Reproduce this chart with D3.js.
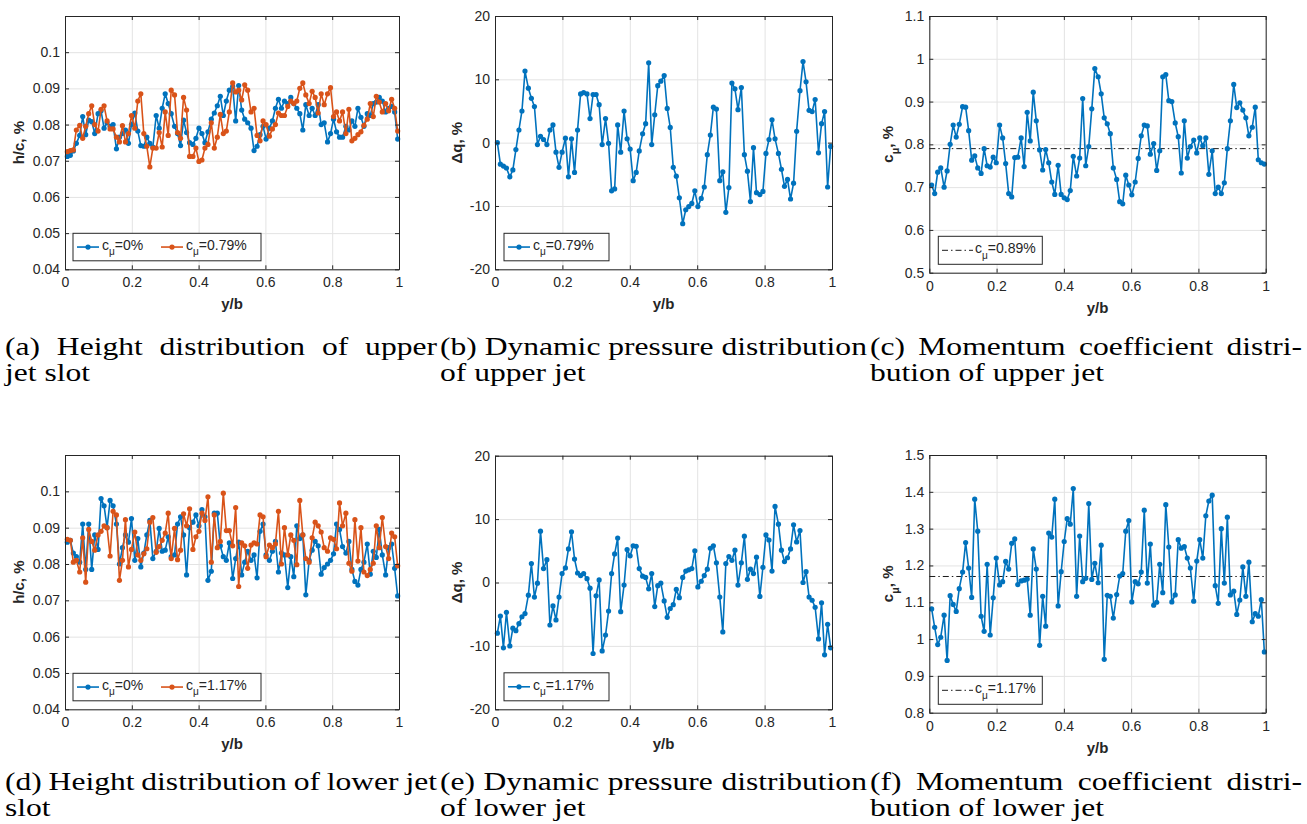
<!DOCTYPE html>
<html>
<head>
<meta charset="utf-8">
<script src="https://cdn.jsdelivr.net/npm/d3@7"></script>
<style>
  body { margin: 0; background: #fff; }
  svg text { font-family: "Liberation Sans", Arial, Helvetica, sans-serif; fill: #262626; }
  svg text.cap { font-family: "Liberation Serif", "Times New Roman", serif; fill: #000; }
</style>
</head>
<body>
<svg id="fig" width="1307" height="824"></svg>
<script>
// spanwise stations y/b
const yb = [0.007,0.016,0.025,0.034,0.044,0.053,0.062,0.071,0.080,0.089,
  0.099,0.108,0.117,0.126,0.135,0.144,0.154,0.163,0.172,0.181,
  0.190,0.199,0.209,0.218,0.227,0.236,0.245,0.254,0.263,0.273,
  0.282,0.291,0.300,0.309,0.318,0.328,0.337,0.346,0.355,0.364,
  0.373,0.383,0.392,0.401,0.410,0.419,0.428,0.438,0.447,0.456,
  0.465,0.474,0.483,0.492,0.502,0.511,0.520,0.529,0.538,0.547,
  0.557,0.566,0.575,0.584,0.593,0.602,0.612,0.621,0.630,0.639,
  0.648,0.657,0.667,0.676,0.685,0.694,0.703,0.712,0.721,0.731,
  0.740,0.749,0.758,0.767,0.776,0.786,0.795,0.804,0.813,0.822,
  0.831,0.841,0.850,0.859,0.868,0.877,0.886,0.895,0.905,0.914,
  0.923,0.932,0.941,0.950,0.960,0.969,0.978,0.987,0.996];

// (a) upper slot height h/c
const hUpperOff = [0.0712,0.0715,0.0727,0.0748,0.077,0.0822,0.0772,0.0812,0.0808,0.0775,
  0.083,0.0838,0.079,0.0805,0.0795,0.08,0.0733,0.0765,0.0775,0.0785,
  0.0748,0.08,0.0832,0.0782,0.0742,0.074,0.0765,0.0748,0.0738,0.0825,
  0.079,0.0845,0.0885,0.0858,0.083,0.0795,0.0775,0.0742,0.0812,0.0778,
  0.075,0.0745,0.0762,0.079,0.0775,0.075,0.078,0.0815,0.0832,0.0852,
  0.0878,0.0825,0.0865,0.0895,0.0905,0.081,0.0908,0.084,0.0815,0.0805,
  0.079,0.0728,0.074,0.0772,0.0795,0.076,0.079,0.081,0.0845,0.087,
  0.0845,0.0865,0.0858,0.0875,0.0858,0.0845,0.083,0.0785,0.0855,0.0825,
  0.0845,0.0825,0.0855,0.08,0.0805,0.0752,0.0775,0.0815,0.078,0.0765,
  0.0765,0.0795,0.0785,0.081,0.0795,0.0845,0.082,0.0795,0.083,0.0825,
  0.0858,0.0862,0.0875,0.0865,0.0835,0.0845,0.085,0.0835,0.076];
const hUpperOn = [0.0725,0.0728,0.073,0.0785,0.0798,0.0762,0.0795,0.083,0.0852,0.08,
  0.0782,0.0842,0.0852,0.081,0.0788,0.0788,0.0765,0.0752,0.0797,0.0752,
  0.0775,0.0825,0.079,0.0865,0.0885,0.0775,0.074,0.0683,0.0735,0.0735,
  0.0778,0.0738,0.0835,0.077,0.0895,0.0882,0.0778,0.0762,0.0875,0.084,
  0.0712,0.0712,0.0735,0.0698,0.0702,0.0735,0.0745,0.0805,0.0735,0.0765,
  0.0828,0.0775,0.0782,0.0835,0.0915,0.089,0.0895,0.0868,0.091,0.0895,
  0.0835,0.0845,0.077,0.0755,0.081,0.08,0.0768,0.0788,0.080,0.0832,
  0.0825,0.0825,0.085,0.0865,0.0858,0.0865,0.09,0.0915,0.0882,0.0858,
  0.0892,0.0875,0.0832,0.0885,0.0855,0.0885,0.0902,0.0822,0.0835,0.081,
  0.0835,0.0775,0.0842,0.0755,0.0762,0.0772,0.078,0.0798,0.0815,0.0858,
  0.0822,0.0878,0.0862,0.0835,0.0858,0.0838,0.087,0.0845,0.0782];

// (b) upper jet dynamic pressure deviation, %
const dqUpper = [0,-3.4,-3.7,-4,-5.4,-4.3,-1.1,2,5,11.3,
  8.6,7,5.7,-0.3,1,0.5,-0.3,2,2.8,-1.5,
  -3.9,-1.5,0.7,-5.4,0.6,-4.7,2,7.7,7.9,7.7,
  3.8,7.6,7.6,6,-0.3,3.8,-0.1,-7.6,-7.3,2.8,
  -1.5,5,0.6,-1,-6,-4.7,-1.3,1.4,3,12.6,
  -0.3,4.4,9,9.7,10.6,5.4,2.4,-3.9,-5.3,-8.7,
  -12.8,-10.6,-10.1,-9.6,-7.6,-10.1,-8.8,-7,-1.9,1.2,
  5.6,5.3,-6,-4.6,-11,-7.1,9.4,8.5,5.2,8.7,
  -1.9,-4.5,-9.3,-0.8,-7.9,-8.2,-7.7,-1.7,0.5,3.6,
  0.6,-1.7,-4.2,-6.9,-5.8,-8.9,-6.4,1.8,8.2,12.8,
  9.6,5.1,4.9,6.8,-1.6,3,4.9,-7,-0.6];

// (c) upper jet momentum coefficient, %
const cmuUpper = [0.705,0.685,0.735,0.745,0.70,0.738,0.80,0.845,0.817,0.847,
  0.888,0.887,0.832,0.763,0.773,0.745,0.732,0.79,0.75,0.747,
  0.77,0.757,0.845,0.815,0.755,0.685,0.677,0.769,0.77,0.815,
  0.748,0.875,0.808,0.922,0.855,0.787,0.74,0.788,0.757,0.712,
  0.683,0.751,0.683,0.675,0.671,0.692,0.772,0.726,0.768,0.907,
  0.75,0.795,0.883,0.977,0.958,0.918,0.862,0.848,0.825,0.745,
  0.718,0.666,0.661,0.728,0.705,0.682,0.712,0.767,0.82,0.845,
  0.843,0.777,0.802,0.739,0.785,0.958,0.963,0.902,0.9,0.85,
  0.818,0.733,0.855,0.768,0.795,0.81,0.78,0.815,0.797,0.815,
  0.73,0.785,0.685,0.7,0.685,0.71,0.79,0.855,0.94,0.886,
  0.897,0.88,0.862,0.82,0.84,0.887,0.764,0.757,0.754];
const cmuUpperMean = 0.79;

// (d) lower slot height h/c
const hLowerOff = [0.086,0.0865,0.083,0.082,0.0805,0.091,0.0785,0.091,0.0785,0.088,
  0.084,0.098,0.096,0.090,0.0975,0.096,0.091,0.080,0.0845,0.088,
  0.086,0.0925,0.081,0.087,0.0792,0.083,0.088,0.092,0.0815,0.0835,
  0.0898,0.0835,0.0838,0.0875,0.082,0.0825,0.091,0.093,0.088,0.077,
  0.090,0.0915,0.0935,0.0905,0.095,0.093,0.0755,0.078,0.094,0.094,
  0.085,0.082,0.081,0.0858,0.076,0.0815,0.086,0.077,0.0805,0.0835,
  0.081,0.0825,0.0762,0.089,0.091,0.0825,0.081,0.0835,0.0862,0.0778,
  0.083,0.0825,0.0735,0.082,0.0765,0.0905,0.087,0.088,0.0715,0.081,
  0.0838,0.0862,0.085,0.0772,0.079,0.080,0.081,0.0828,0.091,0.0895,
  0.0848,0.083,0.0862,0.0785,0.0752,0.0742,0.0785,0.0805,0.0855,0.0772,
  0.0835,0.0818,0.0895,0.0825,0.077,0.0845,0.0855,0.0788,0.0712];
const hLowerOn = [0.0868,0.0865,0.0805,0.081,0.0778,0.0872,0.075,0.0895,0.0862,0.0838,
  0.088,0.089,0.0905,0.09,0.0822,0.0945,0.0935,0.0755,0.081,0.0922,
  0.0792,0.084,0.0888,0.0825,0.081,0.0828,0.0842,0.0915,0.0928,0.0832,
  0.0848,0.0865,0.0885,0.094,0.0815,0.0898,0.0812,0.0838,0.0938,0.0905,
  0.0952,0.084,0.0875,0.089,0.094,0.092,0.0985,0.0805,0.0935,0.0845,
  0.0862,0.0995,0.0892,0.0892,0.085,0.0955,0.0738,0.0858,0.085,0.0788,
  0.0852,0.0858,0.0855,0.0935,0.093,0.082,0.0852,0.0845,0.0855,0.0945,
  0.080,0.090,0.0825,0.088,0.0865,0.0798,0.0975,0.088,0.0815,0.0805,
  0.0872,0.0915,0.0905,0.0888,0.0845,0.0835,0.0872,0.0868,0.0842,0.0968,
  0.0905,0.094,0.0802,0.078,0.0922,0.0808,0.090,0.0778,0.0768,0.0785,
  0.0802,0.0905,0.0845,0.0928,0.0848,0.0815,0.0885,0.0875,0.0795];

// (e) lower jet dynamic pressure deviation, %
const dqLower = [-8,-5.3,-10.3,-4.7,-10,-7.2,-7.6,-6.5,-5.4,-4.9,
  -2,3,-2.3,-0.1,8.1,2.2,3.6,-6.7,-3.7,-5.9,
  -2.3,1.4,2.3,5.3,8,3.7,1.5,1.1,1.4,0.6,
  -0.9,-11.2,-2.1,0.4,-10.8,-8.3,-4.5,1.4,4.5,7,
  -4.6,-0.4,5.2,4.2,5.8,5.7,2.2,1,0.8,-1,
  1.4,-3.8,-0.5,-0.1,-2.9,-5.5,-4.1,-3.5,-1.1,-2.4,
  0.8,1.8,2.0,2.2,5,-0.7,0.2,1.1,2.1,5.4,
  5.8,3.1,-2.3,-7.8,3,4.1,3.5,5.1,-0.4,3.1,
  7.3,0.5,2.1,1.4,4,-2.2,2.4,7.5,6.7,1.8,
  12,9.2,5.1,3.3,3.9,5.3,9.1,6.4,8.2,0,
  1.7,-2.3,-2.8,-3.9,-8.9,-3.2,-11.4,-6.6,-10.3];

// (f) lower jet momentum coefficient, %
const cmuLower = [1.082,1.032,0.985,1.005,1.065,0.942,1.118,1.094,1.075,1.137,
  1.182,1.262,1.193,1.113,1.38,1.293,1.062,1.021,1.203,1.011,
  1.112,1.22,1.147,1.156,1.211,1.19,1.26,1.272,1.148,1.158,
  1.16,1.163,1.065,1.245,1.19,0.983,1.116,1.035,1.288,1.277,
  1.38,1.09,1.183,1.265,1.327,1.312,1.409,1.116,1.28,1.156,
  1.165,1.368,1.162,1.206,1.153,1.255,0.945,1.119,1.116,1.057,
  1.121,1.171,1.178,1.293,1.322,1.101,1.156,1.15,1.182,1.35,
  1.152,1.258,1.092,1.1,1.203,1.126,1.365,1.25,1.101,1.12,
  1.27,1.247,1.251,1.22,1.193,1.103,1.212,1.27,1.22,1.335,
  1.375,1.391,1.145,1.097,1.3,1.152,1.331,1.12,1.13,1.067,
  1.106,1.196,1.116,1.209,1.047,1.069,1.062,1.107,0.965];
const cmuLowerMean = 1.17;

const xTicks = [0, 0.2, 0.4, 0.6, 0.8, 1];
const hTicks = [0.04, 0.05, 0.06, 0.07, 0.08, 0.09, 0.1];
const dqTicks = [-20, -10, 0, 10, 20];
const cmuUpperTicks = [0.5, 0.6, 0.7, 0.8, 0.9, 1, 1.1];
const cmuLowerTicks = [0.8, 0.9, 1, 1.1, 1.2, 1.3, 1.4, 1.5];

const captionsTop = [
  ["(a) Height distribution of upper", "jet slot"],
  ["(b) Dynamic pressure distribution", "of upper jet"],
  ["(c) Momentum coefficient distri-", "bution of upper jet"]
];
const captionsBottom = [
  ["(d) Height distribution of lower jet", "slot"],
  ["(e) Dynamic pressure distribution", "of lower jet"],
  ["(f) Momentum coefficient distri-", "bution of lower jet"]
];

const BLUE = "#0072BD", ORANGE = "#D95319", INK = "#262626";
const svg = d3.select("#fig");

const panels = [
  {box: [65, 16, 399, 269.3], yDom: [0.04, 0.11], yTicks: hTicks, ylab: ["h/c, %"], ylabX: 19,
   series: [{v: hUpperOff, c: BLUE}, {v: hUpperOn, c: ORANGE}],
   leg: {x: 73, y: 233.3, w: 188, h: 27.5, items: [
     {type: "marker", c: BLUE, x: 77, label: "=0%"}, {type: "marker", c: ORANGE, x: 161, label: "=0.79%"}]}},
  {box: [495, 16, 832, 269.3], yDom: [-20, 20], yTicks: dqTicks, ylab: ["\u0394q, %"], ylabX: 457,
   series: [{v: dqUpper, c: BLUE}],
   leg: {x: 504, y: 233.3, w: 105, h: 27.5, items: [{type: "marker", c: BLUE, x: 508, label: "=0.79%"}]}},
  {box: [929.3, 16, 1265.7, 272.7], yDom: [0.5, 1.1], yTicks: cmuUpperTicks, ylab: ["c", "\u03bc", ", %"], ylabX: 888,
   series: [{v: cmuUpper, c: BLUE}], mean: cmuUpperMean,
   leg: {x: 938.3, y: 236.3, w: 104, h: 28, items: [{type: "dashdot", x: 942, label: "=0.89%"}]}},
  {box: [65, 455, 399, 709.3], yDom: [0.04, 0.11], yTicks: hTicks, ylab: ["h/c, %"], ylabX: 19,
   series: [{v: hLowerOff, c: BLUE}, {v: hLowerOn, c: ORANGE}],
   leg: {x: 73, y: 673.3, w: 188, h: 27.5, items: [
     {type: "marker", c: BLUE, x: 77, label: "=0%"}, {type: "marker", c: ORANGE, x: 161, label: "=1.17%"}]}},
  {box: [495, 455.7, 832, 709.3], yDom: [-20, 20], yTicks: dqTicks, ylab: ["\u0394q, %"], ylabX: 457,
   series: [{v: dqLower, c: BLUE}],
   leg: {x: 504, y: 672.8, w: 105, h: 28, items: [{type: "marker", c: BLUE, x: 508, label: "=1.17%"}]}},
  {box: [929.3, 455, 1265.7, 712.7], yDom: [0.8, 1.5], yTicks: cmuLowerTicks, ylab: ["c", "\u03bc", ", %"], ylabX: 888,
   series: [{v: cmuLower, c: BLUE}], mean: cmuLowerMean,
   leg: {x: 938.3, y: 676.3, w: 104, h: 28, items: [{type: "dashdot", x: 942, label: "=1.17%"}]}}
];

function cmuText(sel, size, rest) {
  sel.append("tspan").text("c");
  sel.append("tspan").attr("dy", size * 0.38).attr("font-size", size * 0.72).text("\u03bc");
  sel.append("tspan").attr("dy", -size * 0.38).attr("font-size", size).text(rest);
}

function drawPanel(p) {
  const [x0, y0, x1, y1] = p.box;
  const x = d3.scaleLinear().domain([0, 1]).range([x0, x1]);
  const y = d3.scaleLinear().domain(p.yDom).range([y1, y0]);
  const g = svg.append("g");

  // grid
  g.append("g").attr("transform", `translate(0,${y1})`)
    .call(d3.axisBottom(x).tickValues(xTicks).tickSize(-(y1 - y0)).tickFormat(""))
    .call(s => { s.select(".domain").remove(); s.selectAll("line").attr("stroke", "#e3e3e3"); });
  g.append("g").attr("transform", `translate(${x0},0)`)
    .call(d3.axisLeft(y).tickValues(p.yTicks).tickSize(-(x1 - x0)).tickFormat(""))
    .call(s => { s.select(".domain").remove(); s.selectAll("line").attr("stroke", "#e3e3e3"); });

  // mean line
  if (p.mean !== undefined) {
    g.append("line")
      .attr("x1", x(0)).attr("x2", x(1))
      .attr("y1", y(p.mean)).attr("y2", y(p.mean))
      .attr("stroke", "#000").attr("stroke-width", 0.9)
      .attr("stroke-dasharray", "6,3,1.5,3");
  }

  const line = d3.line().x((d, i) => x(yb[i])).y(d => y(d));
  p.series.forEach(s => {
    g.append("path").datum(s.v)
      .attr("d", line).attr("fill", "none")
      .attr("stroke", s.c).attr("stroke-width", 1.6).attr("stroke-linejoin", "round");
    g.append("g").selectAll("circle").data(s.v).join("circle")
      .attr("cx", (d, i) => x(yb[i])).attr("cy", d => y(d))
      .attr("r", 2.6).attr("fill", s.c);
  });

  // box with inward ticks
  const fmt = d => String(d);
  const style = s => {
    s.selectAll(".domain").attr("stroke", INK).attr("stroke-width", 1);
    s.selectAll(".tick line").attr("stroke", INK);
    s.selectAll("text").attr("font-size", 14).attr("fill", INK)
      .attr("font-family", "'Liberation Sans', Arial, sans-serif");
  };
  g.append("g").attr("transform", `translate(0,${y1})`)
    .call(d3.axisBottom(x).tickValues(xTicks).tickSizeInner(-4).tickSizeOuter(0).tickPadding(8).tickFormat(fmt))
    .call(style);
  g.append("g").attr("transform", `translate(0,${y0})`)
    .call(d3.axisTop(x).tickValues(xTicks).tickSizeInner(-4).tickSizeOuter(0).tickFormat(""))
    .call(style);
  g.append("g").attr("transform", `translate(${x0},0)`)
    .call(d3.axisLeft(y).tickValues(p.yTicks).tickSizeInner(-4).tickSizeOuter(0).tickPadding(5).tickFormat(fmt))
    .call(style);
  g.append("g").attr("transform", `translate(${x1},0)`)
    .call(d3.axisRight(y).tickValues(p.yTicks).tickSizeInner(-4).tickSizeOuter(0).tickFormat(""))
    .call(style);

  // axis labels
  g.append("text")
    .attr("x", (x0 + x1) / 2).attr("y", y1 + 40)
    .attr("text-anchor", "middle").attr("font-size", 15).attr("font-weight", "bold")
    .text("y/b");
  const yl = g.append("text")
    .attr("transform", `translate(${p.ylabX},${(y0 + y1) / 2}) rotate(-90)`)
    .attr("dy", "0.35em")
    .attr("text-anchor", "middle").attr("font-size", 15).attr("font-weight", "bold");
  if (p.ylab.length === 1) yl.text(p.ylab[0]);
  else cmuText(yl, 15, p.ylab[2]);

  // legend
  const L = p.leg;
  const lg = g.append("g");
  lg.append("rect").attr("x", L.x).attr("y", L.y).attr("width", L.w).attr("height", L.h)
    .attr("fill", "#fff").attr("stroke", INK).attr("stroke-width", 1);
  const cy = L.y + L.h / 2;
  L.items.forEach(it => {
    let tx;
    if (it.type === "marker") {
      lg.append("line").attr("x1", it.x).attr("x2", it.x + 22).attr("y1", cy).attr("y2", cy)
        .attr("stroke", it.c).attr("stroke-width", 1.6);
      lg.append("circle").attr("cx", it.x + 11).attr("cy", cy).attr("r", 2.6).attr("fill", it.c);
      tx = it.x + 25;
    } else {
      lg.append("line").attr("x1", it.x).attr("x2", it.x + 31).attr("y1", cy).attr("y2", cy)
        .attr("stroke", "#000").attr("stroke-width", 0.9).attr("stroke-dasharray", "6,3,1.5,3");
      tx = it.x + 33;
    }
    const t = lg.append("text").attr("x", tx).attr("y", cy + 3).attr("font-size", 14);
    cmuText(t, 14, it.label);
  });
}

panels.forEach(drawPanel);

// captions, justified like the LaTeX subcaptions
const capSize = 25;
const capCols = [[5, 437], [440, 867], [870, 1302]];
function measure(str) {
  const t = svg.append("text").attr("class", "cap").attr("font-size", capSize).text(str);
  const w = t.node().getComputedTextLength();
  t.remove();
  return w;
}
const sx = (capCols[1][1] - capCols[1][0]) / measure(captionsTop[1][0]);

function caption(lines, col, base, lead) {
  const [c0, c1] = col;
  const g = svg.append("g").attr("transform", `translate(${c0},${base}) scale(${sx},1)`);
  const W = (c1 - c0) / sx;
  const words = lines[0].split(" ");
  const widths = words.map(measure);
  const gap = (W - d3.sum(widths)) / (words.length - 1);
  let cx = 0;
  words.forEach((w, i) => {
    g.append("text").attr("class", "cap").attr("font-size", capSize).attr("x", cx).attr("y", 0).text(w);
    cx += widths[i] + gap;
  });
  g.append("text").attr("class", "cap").attr("font-size", capSize).attr("x", 0).attr("y", lead).text(lines[1]);
}
captionsTop.forEach((c, i) => caption(c, capCols[i], 355, 26));
captionsBottom.forEach((c, i) => caption(c, capCols[i], 790, 26));
</script>
</body>
</html>
